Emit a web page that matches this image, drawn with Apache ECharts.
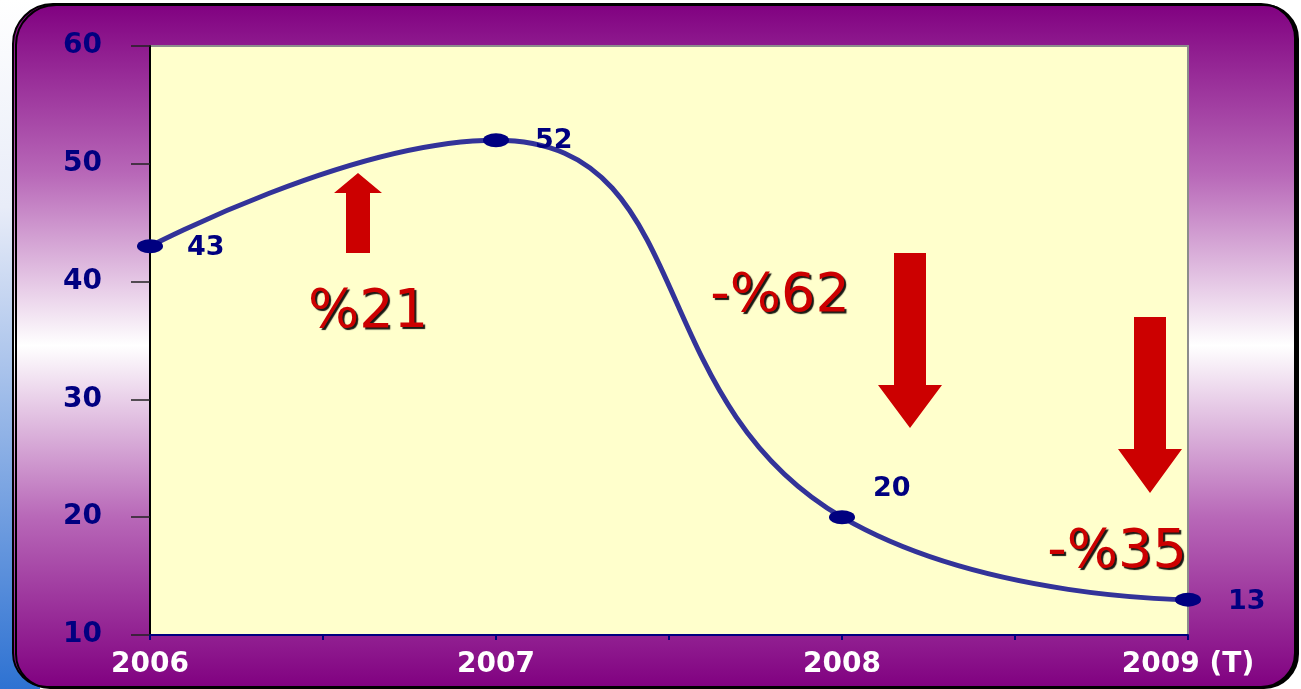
<!DOCTYPE html>
<html>
<head>
<meta charset="utf-8">
<script src="https://cdn.jsdelivr.net/npm/echarts@6/dist/echarts.min.js"></script>
<style>
html, body { margin: 0; padding: 0; background: #fff; }
#main { width: 1301px; height: 689px; }
</style>
</head>
<body>
<div id="main"></div>
<script>
// categories and values
var years = ['2006', '2007', '2008', '2009 (T)']
var values = [43, 52, 20, 13]
var yTicks = [10, 20, 30, 40, 50, 60]
var changes = ['%21', '-%62', '-%35']

var navy = '#000080'
var red = '#CC0000'

var chart = echarts.init(document.getElementById('main'))

var labelCfg = [
  { position: 'right', distance: 24, offset: [0, 2] },
  { position: 'right', distance: 26, offset: [0, 1] },
  { position: 'right', distance: 18, offset: [0, -28] },
  { position: 'right', distance: 27, offset: [0, 2] }
]

var seriesData = values.map(function (v, i) {
  return { value: [i, v], label: labelCfg[i] }
})

var bgGrad = new echarts.graphic.LinearGradient(0, 0, 0, 1, [
  { offset: 0, color: '#800080' },
  { offset: 0.25, color: '#b868b8' },
  { offset: 0.5, color: '#ffffff' },
  { offset: 0.75, color: '#b868b8' },
  { offset: 1, color: '#800080' }
])

var annText = function (txt, x, y) {
  return {
    type: 'text',
    z: 100,
    x: x,
    y: y,
    style: {
      text: txt,
      fill: red,
      font: 'normal 54px "DejaVu Sans"',
      textAlign: 'center',
      textVerticalAlign: 'middle',
      textShadowColor: 'rgba(0,0,0,0.9)',
      textShadowBlur: 1,
      textShadowOffsetX: 2,
      textShadowOffsetY: 2
    }
  }
}

var arrow = function (pts) {
  return { type: 'polygon', z: 100, shape: { points: pts }, style: { fill: red } }
}

chart.setOption({
  animation: false,
  graphic: [
    {
      type: 'rect', z: -20,
      shape: { x: 0, y: 0, width: 40, height: 689 },
      style: {
        fill: new echarts.graphic.LinearGradient(0, 0, 0, 1, [
          { offset: 0, color: '#ffffff' },
          { offset: 0.3, color: '#e8ecf8' },
          { offset: 1, color: '#2e72d2' }
        ])
      }
    },
    {
      type: 'rect', z: -10,
      shape: { x: 13, y: 4, width: 1282, height: 683, r: [40, 34, 34, 34] },
      style: {
        fill: bgGrad, stroke: '#000', lineWidth: 2,
        shadowColor: '#000', shadowOffsetX: 3, shadowOffsetY: 1
      }
    },
    arrow([[346, 253], [346, 193], [334, 193], [358, 173], [382, 193], [370, 193], [370, 253]]),
    arrow([[894, 253], [926, 253], [926, 385], [942, 385], [910, 428], [878, 385], [894, 385]]),
    arrow([[1134, 317], [1166, 317], [1166, 449], [1182, 449], [1150, 493], [1118, 449], [1134, 449]]),
    annText(changes[0], 368, 313),
    annText(changes[1], 780, 297),
    annText(changes[2], 1117, 553)
  ],
  grid: {
    left: 150,
    right: 113,
    top: 46,
    bottom: 54,
    show: true,
    backgroundColor: '#FFFFCC',
    borderColor: '#8c8c8c',
    borderWidth: 2
  },
  xAxis: {
    type: 'value',
    min: 0,
    max: years.length - 1,
    interval: 0.5,
    axisLine: { lineStyle: { color: navy, width: 2 } },
    axisTick: { length: 5, lineStyle: { color: navy, width: 2 } },
    splitLine: { show: false },
    axisLabel: {
      margin: 16,
      color: '#fff',
      fontFamily: 'DejaVu Sans',
      fontWeight: 'bold',
      fontSize: 28,
      showMinLabel: true,
      showMaxLabel: true,
      formatter: function (v) {
        return Number.isInteger(v) ? years[v] : ''
      }
    }
  },
  yAxis: {
    type: 'value',
    min: yTicks[0],
    max: yTicks[yTicks.length - 1],
    interval: 10,
    axisLine: { show: true, lineStyle: { color: '#000', width: 2 } },
    axisTick: { show: true, length: 19, lineStyle: { color: '#222', width: 1.5 } },
    splitLine: { show: false },
    axisLabel: {
      margin: 48,
      color: navy,
      fontFamily: 'DejaVu Sans',
      fontWeight: 'bold',
      fontSize: 28
    }
  },
  series: [
    {
      type: 'line',
      data: seriesData,
      smooth: 0.5,
      symbol: 'circle',
      symbolSize: [26, 14],
      itemStyle: { color: navy },
      lineStyle: { color: '#333399', width: 5 },
      label: {
        show: true,
        color: navy,
        fontFamily: 'DejaVu Sans',
        fontWeight: 'bold',
        fontSize: 27,
        formatter: function (p) { return p.value[1] }
      }
    }
  ]
})
</script>
</body>
</html>
